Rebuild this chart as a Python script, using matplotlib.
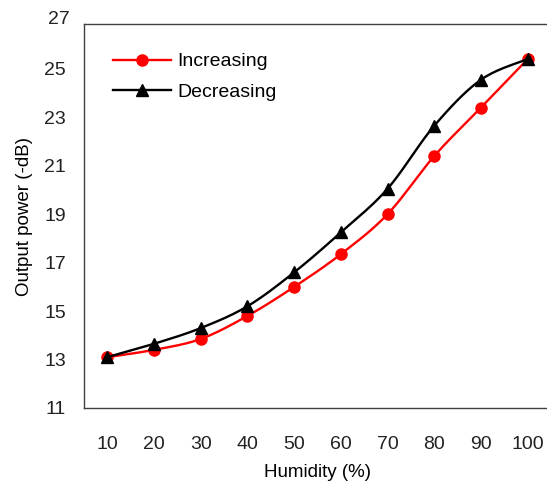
import numpy as np
import matplotlib
matplotlib.use('Agg')
import matplotlib.pyplot as plt

plt.rcParams['font.family'] = ['Liberation Sans', 'DejaVu Sans']

humidity = ['10', '20', '30', '40', '50', '60', '70', '80', '90', '100']
increasing = [13.1, 13.4, 13.85, 14.8, 16.0, 17.35, 19.0, 21.4, 23.4, 25.4]
decreasing = [13.1, 13.65, 14.3, 15.2, 16.6, 18.25, 20.05, 22.65, 24.55, 25.4]


def smooth(x, y, n=20):
    # excel-like smoothed line (catmull-rom bezier)
    x = np.asarray(x, float)
    y = np.asarray(y, float)
    px = np.concatenate([[x[0]], x, [x[-1]]])
    py = np.concatenate([[y[0]], y, [y[-1]]])
    xs, ys = [], []
    t = np.linspace(0, 1, n)
    for i in range(1, len(px) - 2):
        p0 = np.array([px[i], py[i]])
        p3 = np.array([px[i + 1], py[i + 1]])
        c1 = p0 + (np.array([px[i + 1], py[i + 1]]) - np.array([px[i - 1], py[i - 1]])) / 6
        c2 = p3 - (np.array([px[i + 2], py[i + 2]]) - np.array([px[i], py[i]])) / 6
        b = ((1 - t) ** 3)[:, None] * p0 + (3 * (1 - t) ** 2 * t)[:, None] * c1 \
            + (3 * (1 - t) * t ** 2)[:, None] * c2 + (t ** 3)[:, None] * p3
        xs.extend(b[:, 0])
        ys.extend(b[:, 1])
    return xs, ys


fig = plt.figure(figsize=(5.47, 4.82), dpi=100)
ax = fig.add_axes([84 / 547, 1 - 408 / 482, 467 / 547, 384 / 482])

pos = np.arange(len(humidity))
sx, sy = smooth(pos, increasing)
ax.plot(sx, sy, color='#ff0000', lw=1.7)
ax.plot(pos, increasing, 'o', color='#ff0000', ms=8)
sx, sy = smooth(pos, decreasing)
ax.plot(sx, sy, color='black', lw=1.7)
ax.plot(pos, decreasing, '^', color='black', ms=8.5)

# legend handles
ax.plot([], [], '-o', color='#ff0000', lw=1.7, ms=8, label='Increasing')
ax.plot([], [], '-^', color='black', lw=1.7, ms=8.5, label='Decreasing')
ax.legend(loc='upper left', bbox_to_anchor=(0.062, 0.925), frameon=False, fontsize=14,
          borderaxespad=0, borderpad=0, handlelength=3.0, handletextpad=0.3,
          labelspacing=0.68)

ax.set_xlim(-0.5, 9.5)
ax.set_ylim(11, 26.85)
ax.set_yticks(np.arange(11, 27, 2))
ax.set_xticks(pos)
ax.set_xticklabels(humidity)
ax.tick_params(length=0, labelsize=14, colors='#222222')
ax.tick_params(axis='x', pad=20)
ax.tick_params(axis='y', pad=13)
for s in ax.spines.values():
    s.set_color('#404040')
    s.set_linewidth(1)

fig.text(70 / 547, 1 - 19 / 482, '27', ha='right', va='center', fontsize=14, color='#222222')
ax.set_xlabel('Humidity (%)', fontsize=13.5, labelpad=8)
ax.set_ylabel('Output power (-dB)', fontsize=13.5, labelpad=8)

fig.savefig('out.png', dpi=100)
